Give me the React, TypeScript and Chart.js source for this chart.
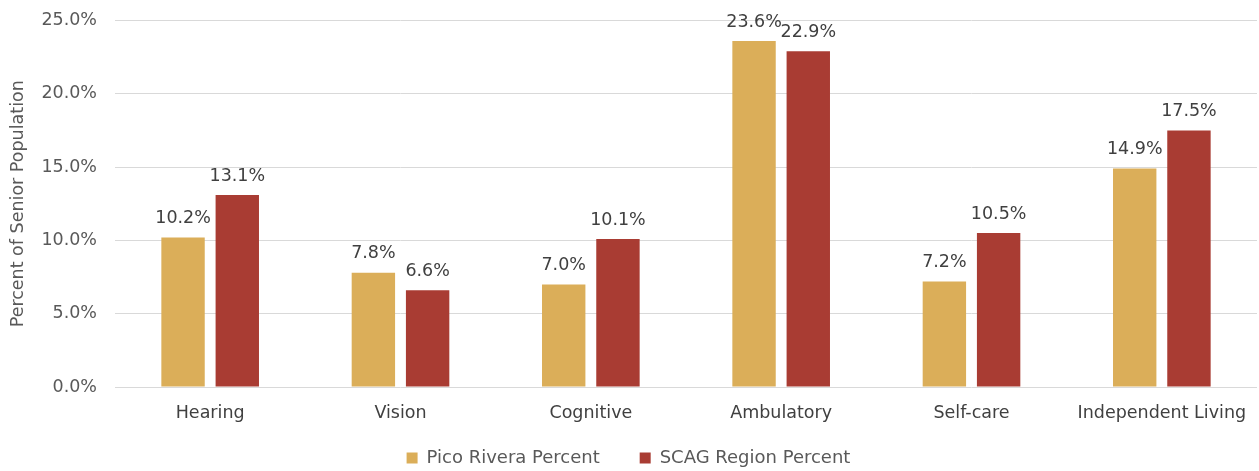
import React, { useEffect, useRef } from "react";
import { Chart, registerables } from "chart.js";

Chart.register(...registerables);

const categories = ["Hearing", "Vision", "Cognitive", "Ambulatory", "Self-care", "Independent Living"];
const picoRivera = [10.2, 7.8, 7.0, 23.6, 7.2, 14.9];
const scagRegion = [13.1, 6.6, 10.1, 22.9, 10.5, 17.5];
const seriesNames = ["Pico Rivera Percent", "SCAG Region Percent"];
const FONT = "'DejaVu Sans', sans-serif";
const FS = 17.5;

const labelPlugin = {
  id: "barLabels",
  afterDatasetsDraw(chart: any) {
    const ctx = chart.ctx;
    ctx.save();
    ctx.font = `${FS}px ${FONT}`;
    ctx.fillStyle = "#404040";
    ctx.textAlign = "center";
    ctx.textBaseline = "bottom";
    chart.data.datasets.forEach((ds: any, i: number) => {
      const meta = chart.getDatasetMeta(i);
      meta.data.forEach((bar: any, j: number) => {
        ctx.fillText(ds.data[j].toFixed(1) + "%", bar.x, bar.y - 10);
      });
    });
    ctx.restore();
  },
};

export default function App() {
  const ref = useRef<HTMLCanvasElement>(null);
  useEffect(() => {
    document.body.style.margin = "0";
    const chart = new Chart(ref.current!, {
      type: "bar",
      data: {
        labels: categories,
        datasets: [
          { label: seriesNames[0], data: picoRivera, backgroundColor: "#DBAE59" },
          { label: seriesNames[1], data: scagRegion, backgroundColor: "#A93C33" },
        ],
      },
      options: {
        animation: false,
        responsive: true,
        maintainAspectRatio: false,
        layout: { padding: { top: 0, right: 2, left: 0, bottom: -6 } },
        datasets: { bar: { categoryPercentage: 0.57, barPercentage: 0.8 } },
        scales: {
          x: {
            grid: { display: false },
            border: { display: false },
            ticks: { color: "#404040", font: { size: FS, family: FONT }, padding: 8 },
          },
          y: {
            min: 0,
            max: 25,
            afterFit: (scale: any) => {
              scale.width = 115;
            },
            ticks: {
              stepSize: 5,
              color: "#595959",
              font: { size: FS, family: FONT },
              padding: 18,
              callback: (v: any) => Number(v).toFixed(1) + "%",
            },
            grid: { color: "#d9d9d9", lineWidth: 1, drawTicks: false },
            border: { display: false },
            title: {
              display: true,
              text: "Percent of Senior Population",
              color: "#595959",
              font: { size: FS, family: FONT },
              padding: { top: 8, bottom: 4 },
            },
          },
        },
        plugins: {
          legend: {
            position: "bottom",
            labels: {
              boxWidth: 11,
              boxHeight: 11,
              color: "#595959",
              font: { size: 18, family: FONT },
              padding: 17,
              generateLabels: (chart: any) => {
                const items = Chart.defaults.plugins.legend.labels.generateLabels(chart);
                return items.map((it: any, i: number) => ({
                  ...it,
                  text: i < items.length - 1 ? it.text + "    " : it.text,
                }));
              },
            },
          },
          tooltip: { enabled: false },
        },
      },
      plugins: [labelPlugin],
    });
    return () => chart.destroy();
  }, []);
  return (
    <div style={{ width: 1259, height: 471, position: "relative", overflow: "hidden" }}>
      <div style={{ position: "absolute", left: 0, top: -8, width: 1259, height: 479 }}>
        <canvas ref={ref} />
      </div>
    </div>
  );
}
